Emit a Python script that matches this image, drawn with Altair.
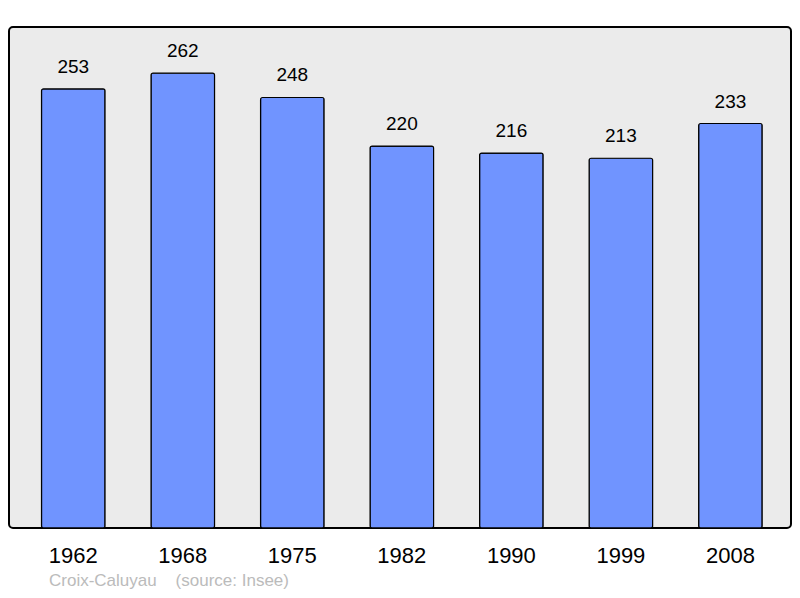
import altair as alt
import pandas as pd

years = ["1962", "1968", "1975", "1982", "1990", "1999", "2008"]
population = [253, 262, 248, 220, 216, 213, 233]
caption = "Croix-Caluyau\u00a0\u00a0\u00a0\u00a0(source: Insee)"

df = pd.DataFrame({"year": years, "pop": population})

FONT = "Liberation Sans"

x = alt.X("year:N", sort=years,
          scale=alt.Scale(paddingInner=0.42, paddingOuter=0.28, align=0.53),
          axis=alt.Axis(title=None, labelAngle=0, labelFontSize=22, labelColor="#000000",
                        labelFont=FONT, ticks=False, domain=False, labelPadding=17))
y = alt.Y("pop:Q", scale=alt.Scale(domain=[0, 288.6], nice=False, zero=True),
          axis=None)

bars = alt.Chart(df).mark_bar(color="#7094FF", stroke="#000000", strokeWidth=1.2,
                               cornerRadius=2).encode(x=x, y=y)

labels = alt.Chart(df).mark_text(baseline="bottom", dy=-12, fontSize=19,
                                  font=FONT, color="#000000").encode(
    x=x, y=y, text="pop:Q")

cap = alt.Chart(pd.DataFrame({"t": [caption]})).mark_text(
    align="left", baseline="middle", fontSize=17, font=FONT, color="#BBBBBB"
).encode(x=alt.value(40), y=alt.value(554), text="t:N")

chart = alt.layer(bars, labels, cap).properties(
    width=782, height=501,
    padding={"left": 1, "top": 19, "right": 1, "bottom": 62},
    autosize=alt.AutoSizeParams(type="none"),
    background="#FFFFFF",
).configure_view(
    fill="#EBEBEB", stroke="#000000", strokeWidth=2, cornerRadius=4
)

chart.save("out.html", embed_options={"renderer": "svg", "actions": False})
